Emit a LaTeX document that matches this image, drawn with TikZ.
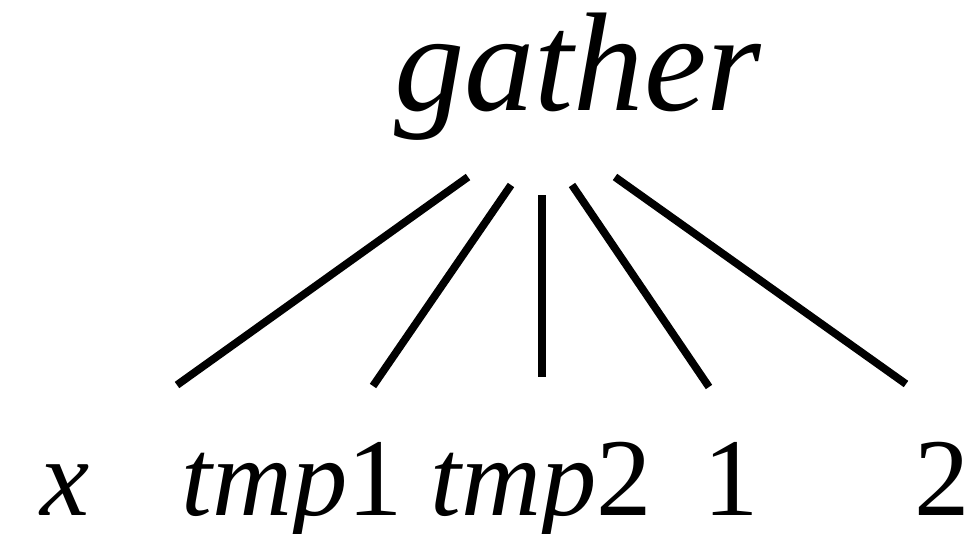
\documentclass[tikz,border=0pt]{standalone}
\usepackage{fontspec}
\setmainfont{Liberation Serif}

\tikzset{
  root/.style={anchor=base, inner sep=0pt, font=\fontsize{40}{43}\selectfont},
  leaf/.style={anchor=base, inner sep=0pt, font=\fontsize{31.5}{34}\selectfont},
  edge/.style={line width=2.2pt}
}

\begin{document}
\begin{tikzpicture}
\useasboundingbox (0,0) rectangle (9.78,-5.34);

% Korzen drzewa
\node[root] (gather) at (5.78,-1.10) {\textit{gather}};

% Liscie
\node[leaf] (x) at (0.65,-5.15) {\textit{x}};
\node[leaf] (tmp1) at (2.92,-5.15) {\textit{tmp}1};
\node[leaf] (tmp2) at (5.41,-5.15) {\textit{tmp}2};
\node[leaf] (one) at (7.31,-5.15) {1};
\node[leaf] (two) at (9.42,-5.15) {2};

% Konce krawedzi
\coordinate (g1) at (4.68,-1.77);
\coordinate (g2) at (5.11,-1.85);
\coordinate (g3) at (5.42,-1.95);
\coordinate (g4) at (5.72,-1.85);
\coordinate (g5) at (6.15,-1.77);
\coordinate (c1) at (1.77,-3.85);
\coordinate (c2) at (3.73,-3.86);
\coordinate (c3) at (5.42,-3.77);
\coordinate (c4) at (7.09,-3.87);
\coordinate (c5) at (9.06,-3.84);

% Krawedzie
\foreach \i in {1,...,5} {
    \draw[edge] (g\i) -- (c\i);
}
\end{tikzpicture}
\end{document}
